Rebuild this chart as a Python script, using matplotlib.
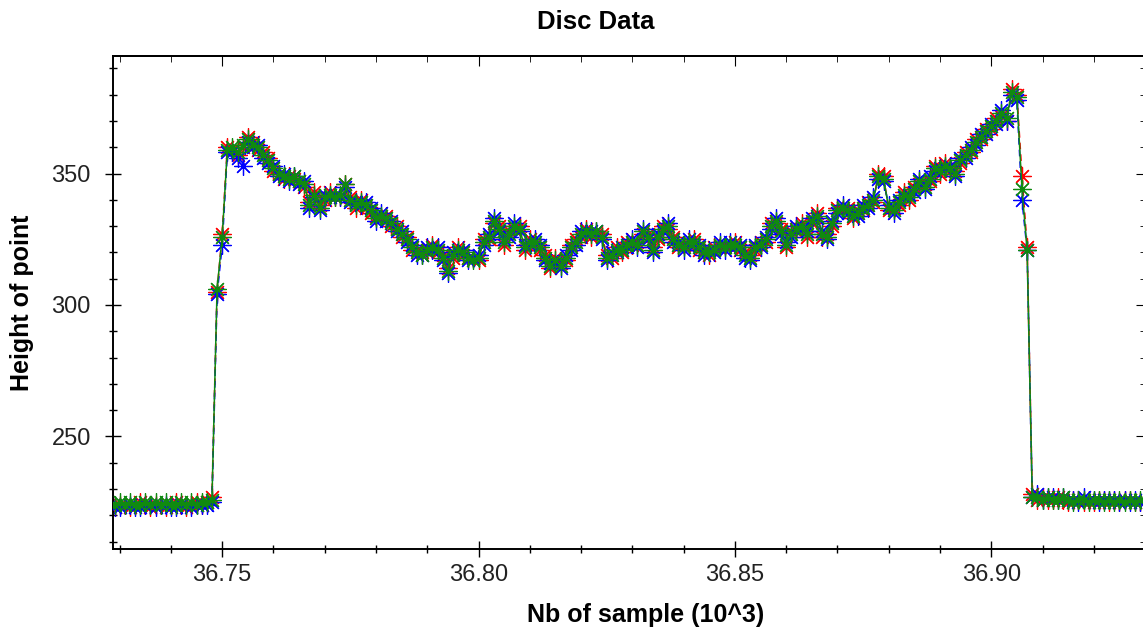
import numpy as np
import matplotlib
matplotlib.use("Agg")
import matplotlib.pyplot as plt
from matplotlib.ticker import MultipleLocator, FormatStrFormatter

# sample numbers (in thousands)
first_sample = 36729
n_samples = 201
samples = np.arange(first_sample, first_sample + n_samples) / 1000.0

red = [
    223,224,224,223,224,225,224,223,224,224,223,224,225,224,223,224,225,224,225,
    227,
    305,327,360,359,357,360,364,362,359,358,
    356,351,350,348,349,348,347,345,339,343,
    338,340,343,341,341,346,341,337,340,337,
    335,334,333,334,330,330,326,326,321,321,
    320,320,323,320,319,314,318,322,319,318,
    318,317,325,325,331,330,323,328,329,330,
    321,325,323,321,319,314,318,316,317,323,
    325,326,329,326,327,327,319,318,322,320,
    324,323,324,327,327,322,325,330,329,326,
    322,323,323,325,321,321,319,322,322,323,
    322,324,321,320,319,321,324,324,331,331,
    329,322,328,328,331,326,331,335,326,327,
    330,337,336,337,333,336,336,339,339,350,
    349,336,337,338,343,340,345,346,346,347,
    353,350,354,351,351,354,358,358,363,363,
    367,367,371,372,370,382,380,349,322,228,
    226,227,226,226,227,226,225,226,226,225,226,225,226,226,225,226,225,226,226,225,225,
]

blue = [
    223,223,224,224,223,223,224,224,223,224,224,223,223,224,224,223,224,224,224,
    225,
    304,323,358,358,356,353,362,360,361,356,
    354,353,349,350,347,349,346,347,337,341,
    336,342,341,342,341,345,339,339,338,339,
    337,332,335,332,332,328,328,324,323,319,
    319,322,321,322,317,312,320,320,321,317,
    318,319,323,327,333,328,325,326,331,328,
    323,323,325,323,317,316,316,314,319,321,
    323,328,327,328,328,325,317,320,320,322,
    322,325,322,329,325,320,327,328,331,324,
    324,321,325,323,323,319,321,320,324,321,
    324,322,323,318,317,323,322,326,329,333,
    327,324,326,330,329,328,333,333,328,325,
    332,335,338,335,335,334,338,337,341,348,
    347,338,335,340,341,342,343,348,344,349,
    351,352,352,353,349,356,356,360,361,365,
    365,369,369,374,370,380,378,340,321,227,
    228,226,227,227,226,227,226,226,225,227,226,226,225,226,226,226,225,226,225,226,225,
]

green = [
    224,225,224,225,224,224,225,224,225,224,225,224,224,225,224,225,224,225,225,
    226,
    306,326,359,360,358,361,363,361,360,357,
    355,352,350,349,348,349,347,346,338,342,
    337,341,342,341,342,346,340,338,339,338,
    336,333,334,333,331,329,327,325,322,320,
    319,321,322,321,318,313,319,321,320,318,
    317,318,324,326,332,329,324,327,330,329,
    322,324,324,322,318,315,317,315,318,322,
    324,327,328,327,328,326,318,319,321,321,
    323,324,323,328,326,321,326,329,330,325,
    323,322,324,324,322,320,320,321,323,322,
    323,323,322,319,318,322,323,325,330,332,
    328,323,327,329,330,327,332,334,327,326,
    331,336,337,336,334,335,337,338,340,349,
    348,337,336,339,342,341,344,347,345,348,
    352,351,353,352,350,355,357,359,362,364,
    366,368,370,373,371,381,379,344,321,227,
    227,226,227,226,226,227,226,225,226,226,225,226,226,225,226,225,226,225,226,225,226,
]

x_ticks = [36.75, 36.80, 36.85, 36.90]
y_ticks = [250, 300, 350]

plt.rcParams['font.family'] = ['Liberation Sans', 'DejaVu Sans']

W, H = 1143, 635
fig = plt.figure(figsize=(W / 100, H / 100), dpi=100)
ax = fig.add_axes([113 / W, 1 - 549 / H, (1143.5 - 113) / W, (549 - 56) / H])

star = (8, 2, 0)
ax.plot(samples, red, color='#ff0000', lw=1.2, ls=(0, (4, 3)), marker=star,
        ms=13, mew=0.9, zorder=2)
ax.plot(samples, blue, color='#0000ff', lw=1.2, ls=(2, (4, 3)), marker=star,
        ms=13, mew=0.9, zorder=3)
ax.plot(samples, green, color='#108a10', lw=1.1, ls='-', marker=star,
        ms=13, mew=0.9, zorder=4)

ax.set_xlim(36.7287, 36.9297)
ax.set_ylim(207.2, 394.7)
ax.set_xticks(x_ticks)
ax.set_yticks(y_ticks)
ax.xaxis.set_major_formatter(FormatStrFormatter('%.2f'))
ax.xaxis.set_minor_locator(MultipleLocator(0.01))
ax.yaxis.set_minor_locator(MultipleLocator(10))

ax.tick_params(which='major', direction='inout', length=12, width=1.0,
               labelsize=17, colors='black')
ax.tick_params(which='minor', direction='inout', length=6, width=1.0)
ax.tick_params(axis='y', which='major', pad=10)
ax.tick_params(axis='x', which='major', pad=5)
for lab in ax.get_xticklabels() + ax.get_yticklabels():
    lab.set_color('#222222')

for s in ['left', 'bottom', 'top']:
    ax.spines[s].set_linewidth(1.4)
ax.spines['right'].set_visible(False)

# mirrored ticks on top and right, pointing inwards
top = ax.secondary_xaxis('top')
top.set_xticks(x_ticks)
top.xaxis.set_minor_locator(MultipleLocator(0.01))
top.tick_params(which='major', direction='in', length=7, labeltop=False)
top.tick_params(which='minor', direction='in', length=4)
top.spines['top'].set_linewidth(1.4)

right = ax.secondary_yaxis('right')
right.set_yticks(y_ticks)
right.yaxis.set_minor_locator(MultipleLocator(10))
right.tick_params(which='major', direction='in', length=6, labelright=False)
right.tick_params(which='minor', direction='in', length=3)

fig.text(596 / W, 1 - 22 / H, 'Disc Data', ha='center', va='center',
         fontsize=18.5, fontweight='bold')
ax.set_xlabel('Nb of sample (10^3)', fontsize=18, fontweight='bold')
ax.xaxis.set_label_coords((645 - 113) / 1030, -(615 - 549) / 493)
ax.xaxis.label.set_va('center')
ax.set_ylabel('Height of point', fontsize=18, fontweight='bold')
ax.yaxis.set_label_coords((22 - 113) / 1030, 0.5)
ax.yaxis.label.set_va('center')

fig.savefig('out.png', dpi=100)
